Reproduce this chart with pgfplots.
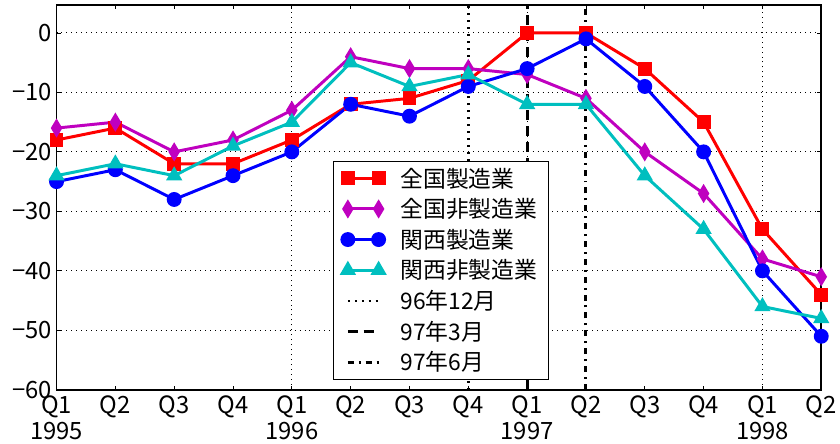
\documentclass[border=0pt]{standalone}
\usepackage{pgfplots}
\pgfplotsset{compat=1.18}
\usepackage{fontspec}
\setmainfont{Noto Sans CJK JP}
\definecolor{mplm}{rgb}{0.75,0,0.75}
\definecolor{mplc}{rgb}{0,0.75,0.75}

\pgfplotsset{
  twoend legend/.style={
    legend image code/.code={
      \draw[##1] plot coordinates {(0pt,0pt) (31pt,0pt)};
    }
  },
  series/.style={line width=3pt, mark size=5.5pt,
    mark options={solid, draw=black, line width=0.5pt}},
}

\begin{document}
\begin{tikzpicture}
\begin{axis}[
  scale only axis,
  width=771pt, height=388pt,
  xmin=0, xmax=13, ymin=-60, ymax=4.7,
  axis line style={line width=1.6pt},
  xtick={0,...,13},
  xticklabels={{Q1\\1995},Q2,Q3,Q4,{Q1\\1996},Q2,Q3,Q4,{Q1\\1997},Q2,Q3,Q4,{Q1\\1998},Q2},
  xticklabel style={align=center, font=\fontsize{24}{27}\selectfont, yshift=-2pt},
  ytick={-60,-50,...,0},
  yticklabels={−60,−50,−40,−30,−20,−10,0},
  yticklabel style={font=\fontsize{24}{25}\selectfont, xshift=-1pt},
  tick align=inside,
  major tick length=4pt,
  tick style={black, line width=0.8pt},
  ymajorgrids,
  extra x ticks={4,8,12},
  extra x tick labels={},
  extra x tick style={grid=major},
  grid style={black, line width=1pt, dash pattern=on 1pt off 4pt},
  legend cell align=left,
  legend style={at={(0.361,0.026)}, anchor=south west, draw=black, line width=0.8pt,
    fill=white, font=\fontsize{23}{25}\selectfont, row sep=6pt,
    inner xsep=9pt, inner ysep=5pt,
    /tikz/every odd column/.append style={column sep=14pt}},
  twoend legend,
]
\addplot[series, red, mark=square*, mark options={fill=red}] coordinates {
  (0,-18) (1,-16) (2,-22) (3,-22) (4,-18) (5,-12) (6,-11)
  (7,-8) (8,0) (9,0) (10,-6) (11,-15) (12,-33) (13,-44)};
\addlegendentry{全国製造業}
\addplot[series, mplm, mark=diamond*, mark size=6.8pt, mark options={fill=mplm, xscale=0.8}] coordinates {
  (0,-16) (1,-15) (2,-20) (3,-18) (4,-13) (5,-4) (6,-6)
  (7,-6) (8,-7) (9,-11) (10,-20) (11,-27) (12,-38) (13,-41)};
\addlegendentry{全国非製造業}
\addplot[series, blue, mark=*, mark size=6pt, mark options={fill=blue}] coordinates {
  (0,-25) (1,-23) (2,-28) (3,-24) (4,-20) (5,-12) (6,-14)
  (7,-9) (8,-6) (9,-1) (10,-9) (11,-20) (12,-40) (13,-51)};
\addlegendentry{関西製造業}
\addplot[series, mplc, mark=triangle*, mark size=6.5pt, mark options={fill=mplc}] coordinates {
  (0,-24) (1,-22) (2,-24) (3,-19) (4,-15) (5,-5) (6,-9)
  (7,-7) (8,-12) (9,-12) (10,-24) (11,-33) (12,-46) (13,-48)};
\addlegendentry{関西非製造業}
\addplot[black, line width=2.5pt, dash pattern=on 2pt off 5pt] coordinates {(7,-60) (7,4.7)};
\addlegendentry{96年12月}
\addplot[black, line width=3pt, dash pattern=on 10pt off 6pt] coordinates {(8,-60) (8,4.7)};
\addlegendentry{97年3月}
\addplot[black, line width=3pt, dash pattern=on 6pt off 5pt on 2pt off 5pt] coordinates {(9,-60) (9,4.7)};
\addlegendentry{97年6月}
\end{axis}
\path ([yshift=5pt]current axis.north) ([xshift=-57pt]current axis.south west);
\end{tikzpicture}
\end{document}
